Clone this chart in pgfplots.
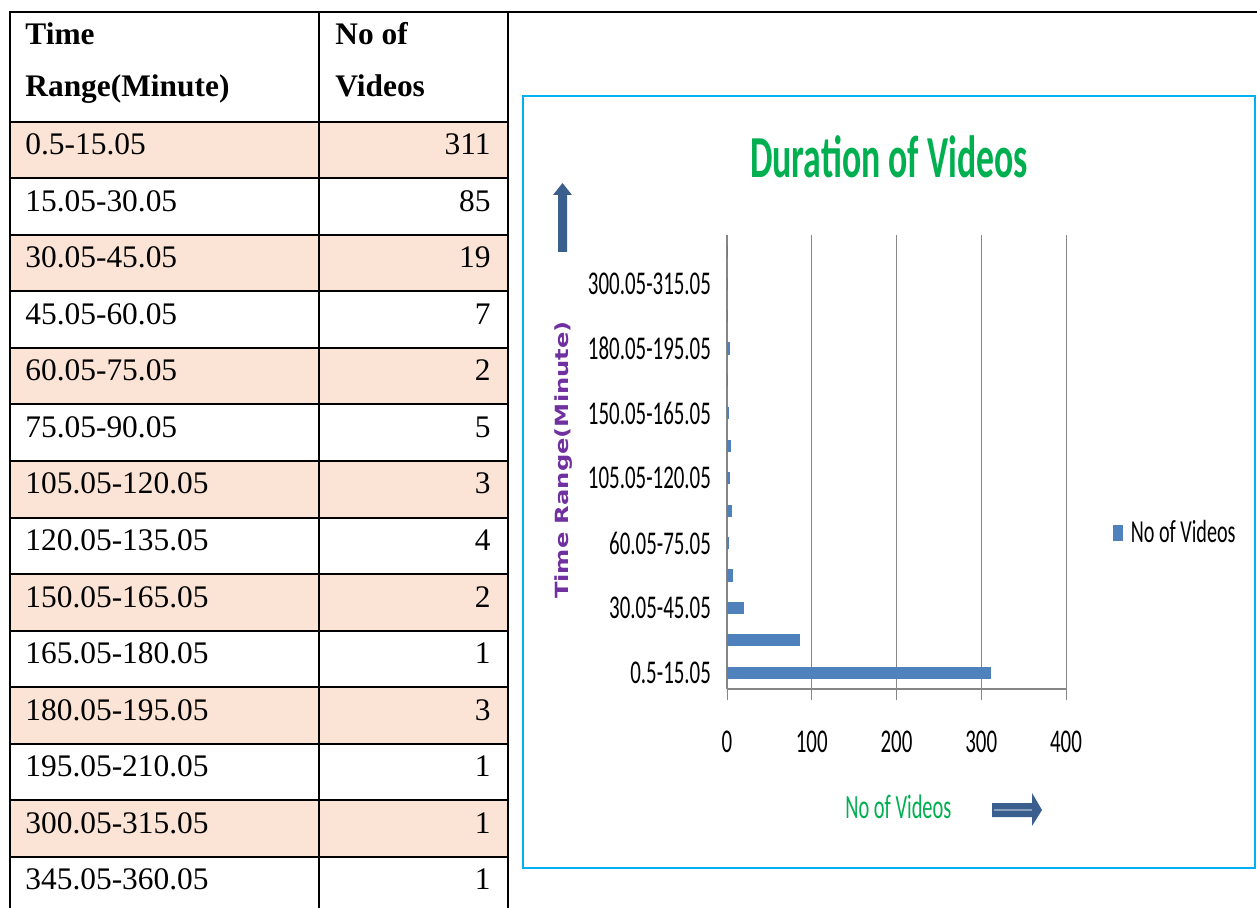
\documentclass[border=0pt]{standalone}
\usepackage{fontspec}
\usepackage{graphicx}
\usepackage{pgfplots}
\pgfplotsset{compat=1.18}
\setmainfont{Liberation Serif}
\newfontfamily\calf[FakeStretch=0.63]{Carlito}
\newfontfamily\calt[FakeStretch=0.6]{Carlito}
\newfontfamily\ylabf{DejaVu Sans}
\definecolor{barblue}{HTML}{4F81BD}
\definecolor{rowfill}{HTML}{FBE4D5}
\definecolor{framecyan}{HTML}{00B0F0}
\definecolor{titlegreen}{HTML}{00B050}
\definecolor{labpurple}{HTML}{7030A0}
\definecolor{arrowblue}{HTML}{3A5F8E}
\definecolor{gridgray}{HTML}{868686}
\begin{document}
\begin{tikzpicture}
\begin{scope}[x=0.5pt,y=-0.5pt]
\useasboundingbox (0,0) rectangle (1257,908);
\clip (0,0) rectangle (1257,908);
% table fills and text
\foreach \lab/\val [count=\i from 0] in {0.5-15.05/311,15.05-30.05/85,30.05-45.05/19,45.05-60.05/7,60.05-75.05/2,75.05-90.05/5,105.05-120.05/3,120.05-135.05/4,150.05-165.05/2,165.05-180.05/1,180.05-195.05/3,195.05-210.05/1,300.05-315.05/1,345.05-360.05/1}{
  \ifodd\i\else
    \fill[rowfill] (10,{122+56.5*\i}) rectangle (508,{122+56.5*(\i+1)});
  \fi
  \node[anchor=base west,inner sep=0pt,font=\fontsize{15.7}{18}\selectfont] at (25,{122+56.5*\i+33}) {\lab};
  \node[anchor=base east,inner sep=0pt,font=\fontsize{15.7}{18}\selectfont] at (491,{122+56.5*\i+33}) {\val};
}
\foreach \i in {0,...,14}{
  \draw[line width=1pt] (9,{122+56.5*\i}) -- (509,{122+56.5*\i});
}
\draw[line width=1pt] (9,12) -- (1257,12);
\draw[line width=1pt] (10,12) -- (10,920);
\draw[line width=1pt] (319,12) -- (319,920);
\draw[line width=1pt] (508,12) -- (508,920);
\node[anchor=base west,inner sep=0pt,font=\fontsize{15.7}{18}\selectfont\bfseries] at (25,45) {Time};
\node[anchor=base west,inner sep=0pt,font=\fontsize{15.7}{18}\selectfont\bfseries] at (25,97) {Range(Minute)};
\node[anchor=base west,inner sep=0pt,font=\fontsize{15.7}{18}\selectfont\bfseries] at (335,45) {No of};
\node[anchor=base west,inner sep=0pt,font=\fontsize{15.7}{18}\selectfont\bfseries] at (335,97) {Videos};
% chart frame
\draw[framecyan,line width=1.2pt] (523,96) rectangle (1255,868);
% title
\node[anchor=base,inner sep=0pt,text=titlegreen,font=\calt\bfseries\fontsize{29.8}{30}\selectfont] at (889,178) {Duration of Videos};
% y label
\node[rotate=90,inner sep=0pt,text=labpurple] at (564,460) {\scalebox{1}[0.75]{\ylabf\bfseries\fontsize{12.1}{14}\selectfont Time Range(Minute)}};
% x label
\node[anchor=base west,inner sep=0pt,text=titlegreen,font=\calt\fontsize{17}{18}\selectfont] at (845,818) {No of Videos};
% arrows
\fill[arrowblue] (558,252) -- (567,252) -- (567,195) -- (572,195) -- (562.5,183) -- (553,195) -- (558,195) -- cycle;
\fill[arrowblue] (992,803) -- (1032,803) -- (1032,793) -- (1042,810) -- (1032,826) -- (1032,817) -- (992,817) -- cycle;
\draw[arrowblue!60!white,line width=1pt] (994,810) -- (1032,810);
\end{scope}
\begin{axis}[
  at={(363.5pt,-344.5pt)}, anchor=south west,
  scale only axis, width=169.5pt, height=227pt,
  xmin=0, xmax=400, ymin=-0.5, ymax=13.5,
  xbar, bar width=5.6pt,
  axis x line*=bottom, axis y line*=left,
  axis line style={draw=gridgray, line width=0.6pt},
  xtick={0,100,200,300,400},
  xmajorgrids, grid style={draw=gridgray, line width=0.5pt},
  tick align=outside, major tick length=5.5pt,
  xtick style={draw=gridgray, line width=0.5pt},
  ytick={0,2,4,6,8,10,12},
  yticklabels={0.5-15.05,30.05-45.05,60.05-75.05,105.05-120.05,150.05-165.05,180.05-195.05,300.05-315.05},
  ytick style={draw=none},
  yticklabel style={font=\calf\fontsize{16.6}{17}\selectfont, xshift=1pt},
  xticklabel style={font=\calf\fontsize{16.6}{17}\selectfont, yshift=-12pt},
  /pgf/number format/assume math mode=true,
  legend style={at={(1.137,0.344)}, anchor=west, draw=none, fill=none, inner sep=0pt,
    font=\calf\fontsize{16}{17}\selectfont},
  legend image code/.code={\fill[barblue,draw=none] (0pt,-4pt) rectangle (5pt,4pt); \path[draw=none,fill=none] (0pt,0pt) rectangle (7pt,0.1pt);},
  clip=false,
]
\addplot[fill=barblue, draw=barblue, line width=0.5pt] coordinates {
(311,0) (85,1) (19,2) (7,3) (2,4) (5,5) (3,6) (4,7) (2,8) (1,9) (3,10) (1,11) (1,12) (1,13)
};
\addlegendentry{No of Videos}
\end{axis}
\end{tikzpicture}
\end{document}
